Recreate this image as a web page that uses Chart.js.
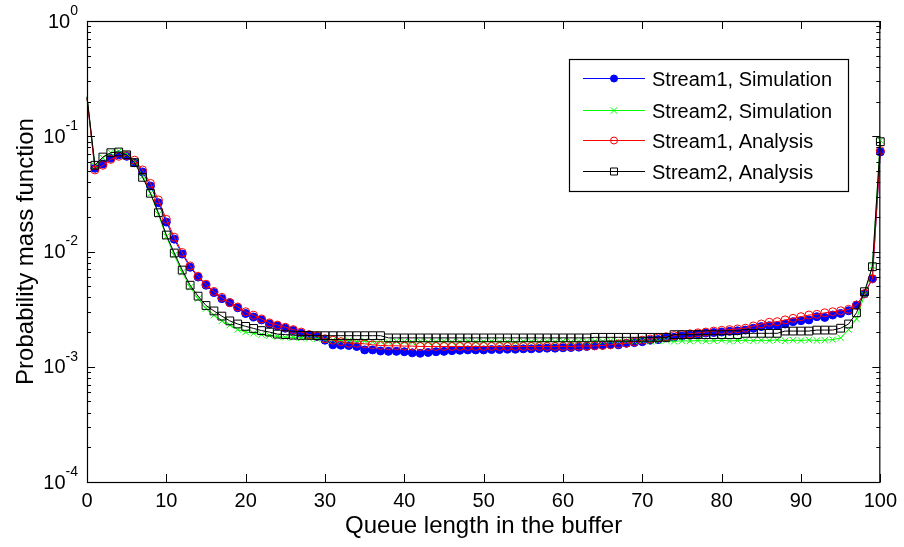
<!DOCTYPE html>
<html>
<head>
<meta charset="utf-8">
<style>
  html, body { margin: 0; padding: 0; background: #fff; }
  canvas { display: block; }
</style>
<script src="https://cdn.jsdelivr.net/npm/chart.js@4.4.1/dist/chart.umd.min.js"></script>
</head>
<body>
<canvas id="pmfChart" width="904" height="547"></canvas>
<script>
const queueLength = [
  0, 1, 2, 3, 4, 5, 6, 7, 8, 9, 10, 11, 12, 13, 14, 15, 16, 17, 18, 19, 20,
  21, 22, 23, 24, 25, 26, 27, 28, 29, 30, 31, 32, 33, 34, 35, 36, 37, 38, 39, 40,
  41, 42, 43, 44, 45, 46, 47, 48, 49, 50, 51, 52, 53, 54, 55, 56, 57, 58, 59, 60,
  61, 62, 63, 64, 65, 66, 67, 68, 69, 70, 71, 72, 73, 74, 75, 76, 77, 78, 79, 80,
  81, 82, 83, 84, 85, 86, 87, 88, 89, 90, 91, 92, 93, 94, 95, 96, 97, 98, 99, 100
];

const stream1Simulation = [
  0.215, 0.0527, 0.0574, 0.0645, 0.069, 0.067, 0.059, 0.049, 0.037, 0.0265,
  0.018, 0.0128, 0.0095, 0.0073, 0.006, 0.0051, 0.0044, 0.0039, 0.0036, 0.00325,
  0.0029, 0.0027, 0.00255, 0.00235, 0.00226, 0.00216, 0.00206, 0.00195, 0.00189, 0.00183,
  0.0017, 0.00155, 0.00154, 0.00153, 0.0015, 0.0014, 0.0014, 0.00137, 0.00136, 0.00136,
  0.00135, 0.00132, 0.00131, 0.00133, 0.00135, 0.00136, 0.00138, 0.00139, 0.0014, 0.0014,
  0.0014, 0.00141, 0.00141, 0.00142, 0.00142, 0.00143, 0.00143, 0.00144, 0.00145, 0.00145,
  0.00146, 0.00147, 0.00148, 0.0015, 0.00152, 0.00154, 0.00156, 0.00155, 0.0016, 0.00162,
  0.00165, 0.0017, 0.00172, 0.00178, 0.0018, 0.00185, 0.00188, 0.00192, 0.00196, 0.00198,
  0.002, 0.00203, 0.00205, 0.00208, 0.00216, 0.00223, 0.00227, 0.00227, 0.00235, 0.00246,
  0.00251, 0.00255, 0.00272, 0.00268, 0.00281, 0.0029, 0.00306, 0.00343, 0.0043, 0.0058,
  0.073
];

const stream2Simulation = [
  0.22, 0.055, 0.065, 0.072, 0.074, 0.07, 0.06, 0.045, 0.032, 0.021,
  0.0135, 0.0093, 0.0066, 0.0049, 0.0039, 0.0032, 0.0028, 0.0025, 0.0023, 0.0021,
  0.002, 0.00195, 0.0019, 0.00187, 0.00183, 0.0018, 0.0018, 0.00178, 0.00176, 0.00175,
  0.00172, 0.0017, 0.00168, 0.00169, 0.00166, 0.00167, 0.00165, 0.00166, 0.00164, 0.00166,
  0.00165, 0.00163, 0.00166, 0.00164, 0.00165, 0.00166, 0.00164, 0.00165, 0.00167, 0.00164,
  0.00165, 0.00166, 0.00164, 0.00165, 0.00163, 0.00166, 0.00165, 0.00164, 0.00166, 0.00165,
  0.00167, 0.00164, 0.00166, 0.00165, 0.00167, 0.00166, 0.00168, 0.00165, 0.00167, 0.00166,
  0.00168, 0.00166, 0.00167, 0.00169, 0.00166, 0.00168, 0.00167, 0.00169, 0.00167, 0.00168,
  0.0017, 0.00167, 0.00169, 0.0017, 0.00168, 0.0017, 0.00169, 0.00171, 0.00168, 0.0017,
  0.00169, 0.00171, 0.00169, 0.0017, 0.00172, 0.00178, 0.0021, 0.0026, 0.0042, 0.0075,
  0.092
];

const stream1Analysis = [
  0.215, 0.051, 0.056, 0.063, 0.067, 0.068, 0.062, 0.051, 0.039, 0.028,
  0.019, 0.0133, 0.0098, 0.0075, 0.0061, 0.0052, 0.0045, 0.004, 0.0036, 0.0033,
  0.003, 0.0028, 0.0026, 0.0024, 0.0023, 0.0022, 0.0021, 0.002, 0.0019, 0.00185,
  0.00175, 0.0017, 0.00165, 0.0016, 0.0016, 0.00158, 0.00155, 0.00153, 0.00152, 0.00152,
  0.00151, 0.00151, 0.0015, 0.0015, 0.0015, 0.0015, 0.0015, 0.0015, 0.0015, 0.0015,
  0.0015, 0.0015, 0.0015, 0.0015, 0.0015, 0.0015, 0.0015, 0.0015, 0.0015, 0.0015,
  0.0015, 0.0015, 0.00151, 0.00151, 0.00152, 0.00153, 0.00155, 0.00158, 0.0016, 0.00165,
  0.0017, 0.00174, 0.00178, 0.00182, 0.00186, 0.0019, 0.00193, 0.00197, 0.002, 0.00204,
  0.00207, 0.0021, 0.00213, 0.00216, 0.00226, 0.00235, 0.00243, 0.00246, 0.00255, 0.00263,
  0.00272, 0.00281, 0.00285, 0.00294, 0.003, 0.00306, 0.00315, 0.00343, 0.0043, 0.0058,
  0.075
];

const stream2Analysis = [
  0.22, 0.056, 0.066, 0.072, 0.073, 0.069, 0.059, 0.044, 0.032, 0.0217,
  0.0139, 0.0097, 0.0069, 0.0051, 0.0041, 0.0034, 0.00305, 0.00275, 0.0025, 0.00235,
  0.00224, 0.00215, 0.00206, 0.002, 0.00192, 0.0019, 0.00188, 0.00187, 0.00187, 0.00186,
  0.00186, 0.00186, 0.00186, 0.00186, 0.00186, 0.00186, 0.00186, 0.00186, 0.00178, 0.00178,
  0.00178, 0.00178, 0.00178, 0.00178, 0.00178, 0.00178, 0.00178, 0.00178, 0.00178, 0.00178,
  0.00178, 0.00178, 0.00178, 0.00178, 0.00178, 0.00178, 0.00178, 0.00178, 0.00178, 0.00178,
  0.00178, 0.00178, 0.00178, 0.00178, 0.0018, 0.0018, 0.0018, 0.0018, 0.0018, 0.0018,
  0.0018, 0.0018, 0.0018, 0.0018, 0.0019, 0.0019, 0.0019, 0.0019, 0.0019, 0.0019,
  0.0019, 0.0019, 0.0019, 0.00195, 0.00195, 0.00195, 0.00195, 0.00195, 0.00204, 0.00204,
  0.00204, 0.00204, 0.00208, 0.00208, 0.00208, 0.00216, 0.00235, 0.00294, 0.00448, 0.00738,
  0.0897
];

const xTicks = [0, 10, 20, 30, 40, 50, 60, 70, 80, 90, 100];
const yExponents = [-4, -3, -2, -1, 0];
const seriesLabels = ['Stream1, Simulation', 'Stream2, Simulation', 'Stream1, Analysis', 'Stream2, Analysis'];

const FONT = '"Liberation Sans", Arial, sans-serif';

const toPoints = (values) => values.map((v, i) => ({ x: queueLength[i], y: v }));
const hideFirst = (r) => (ctx) => (ctx.dataIndex === 0 ? 0 : r);

const series = [
  { label: seriesLabels[0], data: stream1Simulation, color: '#0000ff', style: 'circle', radius: 4, filled: true, order: 4 },
  { label: seriesLabels[1], data: stream2Simulation, color: '#00ff00', style: 'crossRot', radius: 4.5, filled: false, order: 3 },
  { label: seriesLabels[2], data: stream1Analysis, color: '#ff0000', style: 'circle', radius: 4, filled: false, order: 2 },
  { label: seriesLabels[3], data: stream2Analysis, color: '#000000', style: 'rect', radius: 5.5, filled: false, order: 1 }
];

const datasets = series.map((s) => ({
  label: s.label,
  data: toPoints(s.data),
  borderColor: s.color,
  backgroundColor: s.color,
  borderWidth: 1,
  pointStyle: s.style,
  pointRadius: hideFirst(s.radius),
  pointBorderColor: s.color,
  pointBackgroundColor: s.filled ? s.color : 'rgba(0,0,0,0)',
  pointBorderWidth: 1,
  tension: 0,
  fill: false,
  clip: false,
  order: s.order
}));

// legend marker, drawn the same way as the plot markers
const drawMarker = (ctx, s, cx, cy) => {
  ctx.strokeStyle = s.color;
  ctx.fillStyle = s.color;
  ctx.lineWidth = 1;
  ctx.beginPath();
  if (s.style === 'circle') {
    ctx.arc(cx, cy, 3.5, 0, Math.PI * 2);
    if (s.filled) ctx.fill();
    ctx.stroke();
  } else if (s.style === 'crossRot') {
    ctx.moveTo(cx - 3.3, cy - 3.3); ctx.lineTo(cx + 3.3, cy + 3.3);
    ctx.moveTo(cx + 3.3, cy - 3.3); ctx.lineTo(cx - 3.3, cy + 3.3);
    ctx.stroke();
  } else {
    ctx.rect(cx - 3.5, cy - 3.5, 7, 7);
    ctx.stroke();
  }
};

const matlabAxes = {
  id: 'matlabAxes',
  afterDatasetsDraw(chart) {
    const { ctx, chartArea: a, scales: { x, y } } = chart;
    ctx.save();
    ctx.strokeStyle = '#000';
    ctx.lineWidth = 1;
    ctx.beginPath();
    x.ticks.forEach((t) => {
      const px = Math.round(x.getPixelForValue(t.value)) + 0.5;
      ctx.moveTo(px, a.bottom); ctx.lineTo(px, a.bottom - 8);
      ctx.moveTo(px, a.top); ctx.lineTo(px, a.top + 8);
    });
    yExponents.forEach((e) => {
      const py = Math.round(y.getPixelForValue(Math.pow(10, e))) + 0.5;
      ctx.moveTo(a.left, py); ctx.lineTo(a.left + 8, py);
      ctx.moveTo(a.right, py); ctx.lineTo(a.right - 8, py);
      if (e === 0) return;
      for (let k = 2; k <= 9; k++) {
        const pm = Math.round(y.getPixelForValue(k * Math.pow(10, e))) + 0.5;
        ctx.moveTo(a.left, pm); ctx.lineTo(a.left + 4, pm);
        ctx.moveTo(a.right, pm); ctx.lineTo(a.right - 4, pm);
      }
    });
    ctx.stroke();
    ctx.lineWidth = 1.2;
    ctx.strokeRect(a.left + 0.5, a.top + 0.5, a.right - a.left - 1, a.bottom - a.top);

    // y tick labels as 10 with a raised exponent
    ctx.fillStyle = '#000';
    ctx.textBaseline = 'middle';
    yExponents.forEach((e) => {
      const py = y.getPixelForValue(Math.pow(10, e));
      const sup = e === 0 ? '0' : '-' + Math.abs(e);
      ctx.font = '14px ' + FONT;
      const supW = ctx.measureText(sup).width;
      const right = 78;
      ctx.textAlign = 'left';
      ctx.fillText(sup, right - supW, py - 10);
      ctx.font = '20px ' + FONT;
      ctx.textAlign = 'right';
      ctx.fillText('10', right - supW, py + 1);
    });
    ctx.restore();
  },
  afterDraw(chart) {
    const { ctx } = chart;
    const box = { left: 569, top: 59, right: 848, bottom: 191 };
    const lineY = [78, 110, 140, 171];
    ctx.save();
    ctx.fillStyle = '#fff';
    ctx.fillRect(box.left, box.top, box.right - box.left, box.bottom - box.top);
    ctx.strokeStyle = '#000';
    ctx.lineWidth = 1.2;
    ctx.strokeRect(box.left + 0.5, box.top + 0.5, box.right - box.left, box.bottom - box.top);
    series.forEach((s, i) => {
      const cy = lineY[i] + 0.5;
      ctx.strokeStyle = s.color;
      ctx.lineWidth = 1;
      ctx.beginPath();
      ctx.moveTo(583, cy); ctx.lineTo(645, cy);
      ctx.stroke();
      drawMarker(ctx, s, 614, cy);
      ctx.fillStyle = '#000';
      ctx.font = '20px ' + FONT;
      ctx.textAlign = 'left';
      ctx.textBaseline = 'middle';
      ctx.fillText(s.label, 652, lineY[i] + 2);
    });
    ctx.restore();
  }
};

new Chart(document.getElementById('pmfChart'), {
  type: 'line',
  data: { datasets },
  options: {
    responsive: false,
    animation: false,
    events: [],
    layout: { padding: { top: 21, right: 20, left: 0, bottom: 0 } },
    plugins: { legend: { display: false }, tooltip: { enabled: false } },
    scales: {
      x: {
        type: 'linear',
        min: 0,
        max: 100,
        afterBuildTicks: (scale) => { scale.ticks = xTicks.map((v) => ({ value: v })); },
        afterFit: (scale) => { scale.height = 65; },
        grid: { display: false, drawTicks: false },
        border: { display: false },
        ticks: { color: '#000', font: { family: FONT, size: 20 }, padding: 7, maxRotation: 0 },
        title: {
          display: true,
          text: 'Queue length in the buffer',
          color: '#000',
          font: { family: FONT, size: 24 },
          padding: { top: 0, bottom: 6 }
        }
      },
      y: {
        type: 'logarithmic',
        min: 1e-4,
        max: 1,
        afterFit: (scale) => { scale.width = 87; },
        grid: { display: false, drawTicks: false },
        border: { display: false },
        ticks: { display: false },
        title: {
          display: true,
          text: 'Probability mass function',
          color: '#000',
          font: { family: FONT, size: 24 },
          padding: { top: 12, bottom: 0 }
        }
      }
    }
  },
  plugins: [matlabAxes]
});
</script>
</body>
</html>
